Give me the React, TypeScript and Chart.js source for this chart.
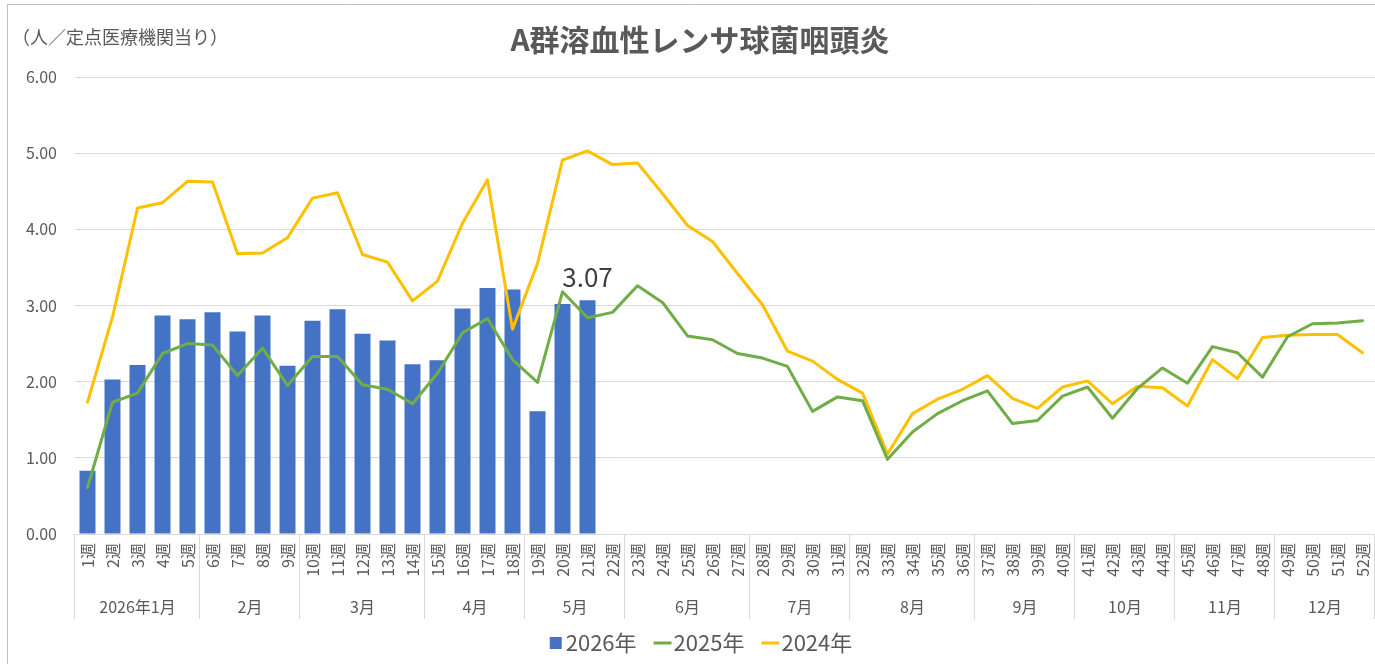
import React, { useEffect, useRef } from 'react';
import { Chart, registerables } from 'chart.js';

Chart.register(...registerables);

const FONT = "'Noto Sans CJK JP', 'Noto Sans', sans-serif";
const TEXT_COLOR = '#595959';

const chartTitle = 'A群溶血性レンサ球菌咽頭炎';
const unitLabel = '（人／定点医療機関当り）';

const weekLabels = [
  '1週', '2週', '3週', '4週', '5週', '6週', '7週', '8週', '9週', '10週',
  '11週', '12週', '13週', '14週', '15週', '16週', '17週', '18週', '19週', '20週',
  '21週', '22週', '23週', '24週', '25週', '26週', '27週', '28週', '29週', '30週',
  '31週', '32週', '33週', '34週', '35週', '36週', '37週', '38週', '39週', '40週',
  '41週', '42週', '43週', '44週', '45週', '46週', '47週', '48週', '49週', '50週',
  '51週', '52週',
];

const monthLabels = ['2026年1月', '2月', '3月', '4月', '5月', '6月', '7月', '8月', '9月', '10月', '11月', '12月'];
const monthWeekCounts = [5, 4, 5, 4, 4, 5, 4, 5, 4, 4, 4, 4];

const seriesNames = ['2026年', '2025年', '2024年'];

const values2026 = [
  0.83, 2.03, 2.22, 2.87, 2.82, 2.91, 2.66, 2.87, 2.21, 2.80,
  2.95, 2.63, 2.54, 2.23, 2.28, 2.96, 3.23, 3.21, 1.61, 3.02,
  3.07,
];

const values2025 = [
  0.61, 1.73, 1.85, 2.37, 2.50, 2.48, 2.08, 2.44, 1.95, 2.33,
  2.33, 1.96, 1.90, 1.71, 2.11, 2.64, 2.83, 2.29, 1.99, 3.18,
  2.84, 2.91, 3.26, 3.04, 2.60, 2.55, 2.37, 2.31, 2.20, 1.61,
  1.80, 1.75, 0.98, 1.34, 1.58, 1.75, 1.88, 1.45, 1.49, 1.81,
  1.93, 1.52, 1.91, 2.18, 1.98, 2.46, 2.38, 2.06, 2.59, 2.76,
  2.77, 2.80,
];

const values2024 = [
  1.73, 2.85, 4.28, 4.35, 4.63, 4.62, 3.68, 3.69, 3.89, 4.41,
  4.48, 3.67, 3.57, 3.06, 3.32, 4.08, 4.65, 2.69, 3.55, 4.91,
  5.03, 4.85, 4.87, 4.47, 4.05, 3.84, 3.42, 3.01, 2.40, 2.27,
  2.03, 1.85, 1.05, 1.58, 1.77, 1.90, 2.08, 1.78, 1.65, 1.93,
  2.01, 1.71, 1.94, 1.92, 1.68, 2.29, 2.04, 2.58, 2.61, 2.62,
  2.62, 2.38,
];

const yTicks = [0, 1, 2, 3, 4, 5, 6];

const COLORS = ['#4472C4', '#70AD47', '#FFC000'];

const overlayPlugin = {
  id: 'overlay',
  afterDraw(chart: any) {
    const { ctx, chartArea, scales } = chart;
    const xs = scales.x;
    ctx.save();

    // outer frame
    ctx.strokeStyle = '#bfbfbf';
    ctx.lineWidth = 1;
    ctx.beginPath();
    ctx.moveTo(7.5, 700);
    ctx.lineTo(7.5, 4.5);
    ctx.lineTo(1400, 4.5);
    ctx.stroke();

    // title
    ctx.fillStyle = TEXT_COLOR;
    ctx.font = `bold 30px ${FONT}`;
    ctx.textAlign = 'center';
    ctx.textBaseline = 'middle';
    ctx.fillText(chartTitle, 700, 40);

    // unit label
    ctx.font = `18px ${FONT}`;
    ctx.textAlign = 'left';
    ctx.fillText(unitLabel, 12, 37);

    // month group separators and labels
    const half = (xs.getPixelForValue(1) - xs.getPixelForValue(0)) / 2;
    const sepTop = chartArea.bottom;
    const sepBottom = 619;
    ctx.strokeStyle = '#d9d9d9';
    ctx.lineWidth = 1;
    let idx = 0;
    const edgeX = (i: number) => xs.getPixelForValue(i) - half;
    const drawSep = (px: number) => {
      const p = Math.round(px) - 0.5;
      ctx.beginPath();
      ctx.moveTo(p, sepTop);
      ctx.lineTo(p, sepBottom);
      ctx.stroke();
    };
    drawSep(edgeX(0));
    ctx.font = `16px ${FONT}`;
    ctx.textAlign = 'center';
    ctx.fillStyle = TEXT_COLOR;
    monthLabels.forEach((label, m) => {
      const start = edgeX(idx);
      idx += monthWeekCounts[m];
      const end = edgeX(idx);
      drawSep(end);
      ctx.fillText(label, (start + end) / 2, 607);
    });

    // data label on the latest bar
    const barMeta = chart.getDatasetMeta(0);
    const lastIdx = values2026.length - 1;
    const bar = barMeta.data[lastIdx];
    if (bar) {
      ctx.font = `26px ${FONT}`;
      ctx.fillStyle = '#404040';
      ctx.textAlign = 'center';
      ctx.textBaseline = 'alphabetic';
      ctx.fillText(values2026[lastIdx].toFixed(2), bar.x, bar.y - 13);
    }

    // legend
    ctx.font = `22px ${FONT}`;
    ctx.textBaseline = 'middle';
    ctx.textAlign = 'left';
    const ly = 643;
    const markerW = [12, 18, 18];
    const gapAfterMarker = [4, 2, 2];
    const gapBetween = 17;
    let total = 0;
    seriesNames.forEach((n, i) => {
      total += markerW[i] + gapAfterMarker[i] + ctx.measureText(n).width;
      if (i < seriesNames.length - 1) total += gapBetween;
    });
    let lx = 701 - total / 2;
    seriesNames.forEach((n, i) => {
      if (i === 0) {
        ctx.fillStyle = COLORS[0];
        ctx.fillRect(lx, ly - 6, 12, 12);
      } else {
        ctx.strokeStyle = COLORS[i];
        ctx.lineWidth = 3;
        ctx.beginPath();
        ctx.moveTo(lx, ly);
        ctx.lineTo(lx + markerW[i], ly);
        ctx.stroke();
      }
      lx += markerW[i] + gapAfterMarker[i];
      ctx.fillStyle = TEXT_COLOR;
      ctx.fillText(n, lx, ly);
      lx += ctx.measureText(n).width + gapBetween;
    });

    ctx.restore();
  },
};

export default function App() {
  const canvasRef = useRef<HTMLCanvasElement | null>(null);

  useEffect(() => {
    const canvas = canvasRef.current;
    if (!canvas) return;
    const chart = new Chart(canvas, {
      type: 'bar',
      data: {
        labels: weekLabels,
        datasets: [
          {
            type: 'bar',
            label: seriesNames[0],
            data: values2026,
            backgroundColor: COLORS[0],
            borderWidth: 0,
            barPercentage: 0.64,
            categoryPercentage: 1,
            order: 3,
          },
          {
            type: 'line',
            label: seriesNames[1],
            data: values2025,
            borderColor: COLORS[1],
            backgroundColor: COLORS[1],
            borderWidth: 3,
            pointRadius: 0,
            tension: 0,
            borderJoinStyle: 'round',
            borderCapStyle: 'round',
            order: 1,
          },
          {
            type: 'line',
            label: seriesNames[2],
            data: values2024,
            borderColor: COLORS[2],
            backgroundColor: COLORS[2],
            borderWidth: 3,
            pointRadius: 0,
            tension: 0,
            borderJoinStyle: 'round',
            borderCapStyle: 'round',
            order: 2,
          },
        ] as any,
      },
      options: {
        animation: false,
        responsive: false,
        maintainAspectRatio: false,
        layout: { padding: { top: 77, left: 0, right: 0, bottom: 0 } },
        plugins: {
          legend: { display: false },
          tooltip: { enabled: false },
          title: { display: false },
        },
        scales: {
          x: {
            type: 'category',
            offset: true,
            grid: { display: false, drawTicks: false },
            border: { display: false },
            ticks: {
              autoSkip: false,
              minRotation: 90,
              maxRotation: 90,
              padding: 9,
              color: TEXT_COLOR,
              font: { family: FONT, size: 16 },
            },
            afterFit: (scale: any) => {
              scale.height = 130;
              scale.paddingLeft = 0;
              scale.paddingRight = 0;
            },
          },
          y: {
            min: yTicks[0],
            max: yTicks[yTicks.length - 1],
            afterBuildTicks: (scale: any) => {
              scale.ticks = yTicks.map((v) => ({ value: v }));
            },
            grid: { color: '#d9d9d9', lineWidth: 1, drawTicks: false },
            border: { display: false },
            ticks: {
              padding: 18,
              color: TEXT_COLOR,
              font: { family: FONT, size: 16 },
              callback: (v: any) => Number(v).toFixed(2),
            },
            afterFit: (scale: any) => {
              scale.width = 75;
            },
          },
        },
      },
      plugins: [overlayPlugin],
    });
    return () => chart.destroy();
  }, []);

  return (
    <div style={{ position: 'fixed', left: 0, top: 0, width: 1375, height: 664, background: '#fff' }}>
      <canvas ref={canvasRef} width={1375} height={664} style={{ width: 1375, height: 664, display: 'block' }} />
    </div>
  );
}
